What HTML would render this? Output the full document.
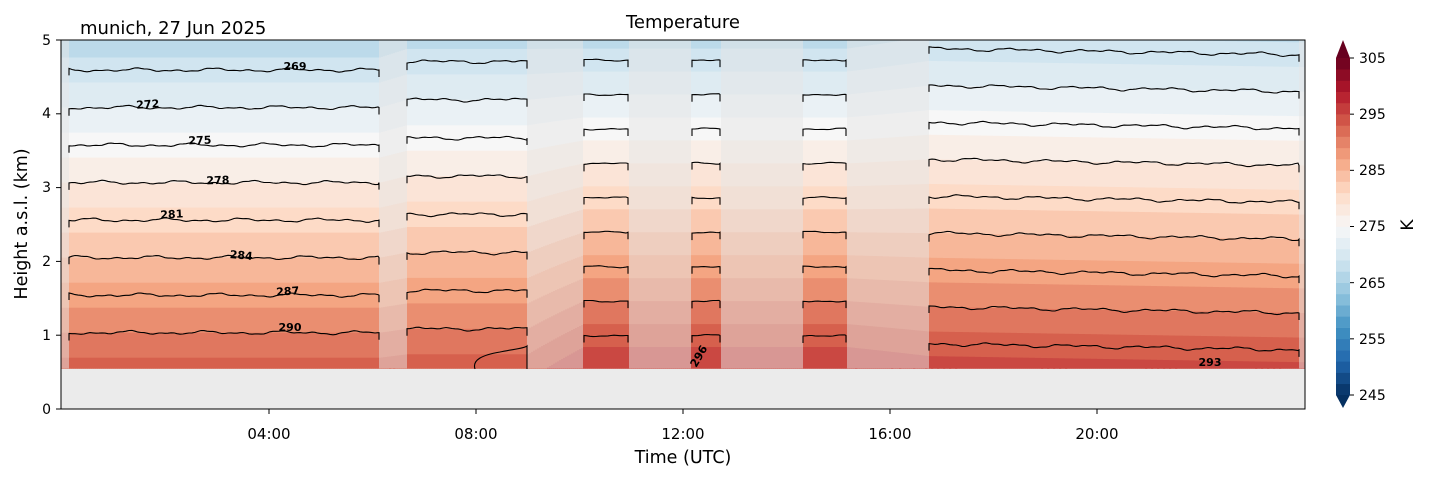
<!DOCTYPE html>
<html><head><meta charset="utf-8"><style>
body{margin:0;background:#fff;}
svg text{font-family:"DejaVu Sans","Liberation Sans",sans-serif;}
</style></head><body>
<svg id="s" width="1429" height="478" xmlns="http://www.w3.org/2000/svg">
<rect x="0" y="0" width="1429" height="478" fill="#fff"/>
<rect x="61" y="40" width="1244" height="369" fill="#ebebeb"/>
<g id="field"></g>
<g id="cont" fill="none" stroke="#000" stroke-width="1.1"></g>
<g id="labs" font-size="11" font-weight="bold" fill="#000"></g>
<rect x="61" y="40" width="1244" height="369" fill="none" stroke="#000" stroke-width="1"/>
<g id="cbar"></g>
<g stroke="#000" stroke-width="1">
<line x1="56" y1="409" x2="61" y2="409"/><line x1="56" y1="335.2" x2="61" y2="335.2"/><line x1="56" y1="261.4" x2="61" y2="261.4"/><line x1="56" y1="187.6" x2="61" y2="187.6"/><line x1="56" y1="113.8" x2="61" y2="113.8"/><line x1="56" y1="40" x2="61" y2="40"/>
<line x1="269" y1="409" x2="269" y2="414"/><line x1="476" y1="409" x2="476" y2="414"/><line x1="683" y1="409" x2="683" y2="414"/><line x1="890" y1="409" x2="890" y2="414"/><line x1="1097" y1="409" x2="1097" y2="414"/>
</g>
<g font-size="14" fill="#000" text-anchor="end">
<text x="51" y="414">0</text><text x="51" y="340">1</text><text x="51" y="266">2</text><text x="51" y="192">3</text><text x="51" y="118">4</text><text x="51" y="45">5</text>
</g>
<g font-size="15" fill="#000" text-anchor="middle">
<text x="269" y="439">04:00</text><text x="476" y="439">08:00</text><text x="683" y="439">12:00</text><text x="890" y="439">16:00</text><text x="1097" y="439">20:00</text>
</g>
<text x="683" y="463" font-size="17.5" text-anchor="middle">Time (UTC)</text>
<text transform="translate(27,224) rotate(-90)" font-size="17.5" text-anchor="middle">Height a.s.l. (km)</text>
<text x="683" y="28" font-size="18" text-anchor="middle">Temperature</text>
<text x="80" y="34" font-size="18">munich, 27 Jun 2025</text>
<g font-size="14" fill="#000">
<text x="1359" y="63">305</text><text x="1359" y="119">295</text><text x="1359" y="175">285</text><text x="1359" y="231">275</text><text x="1359" y="288">265</text><text x="1359" y="344">255</text><text x="1359" y="400">245</text>
</g>
<text transform="translate(1413,225) rotate(-90)" font-size="17" text-anchor="middle">K</text>
</svg>
<script>
var cm=["#053061","#2166ac","#4393c3","#92c5de","#d1e5f0","#f7f7f7","#fddbc7","#f4a582","#d6604d","#b2182b","#67001f"];
function hx(c){return [parseInt(c.substr(1,2),16),parseInt(c.substr(3,2),16),parseInt(c.substr(5,2),16)];}
function col(T){var t=(T-245)/60;t=Math.max(0,Math.min(1,t))*10;var i=Math.min(9,Math.floor(t)),f=t-i;var a=hx(cm[i]),b=hx(cm[i+1]);
return "rgb("+[0,1,2].map(function(k){return Math.round(a[k]+(b[k]-a[k])*f)}).join(",")+")";}
function Y(z){return 409-z*73.8;}
var A=[[61,296.1,5.9],[380,296.1,5.9],[407,296.3,5.8],[528,296.3,5.8],[584,299.4,6.43],[847,299.4,6.43],[929,298.3,6.0],[1305,297.8,6.0]];
function BL(x){for(var i=0;i<A.length-1;i++){if(x<=A[i+1][0]){var f=(x-A[i][0])/(A[i+1][0]-A[i][0]);f=Math.max(0,f);return [A[i][1]+(A[i+1][1]-A[i][1])*f,A[i][2]+(A[i+1][2]-A[i][2])*f];}}return [A[A.length-1][1],A[A.length-1][2]];}
function noise(x,s){return 1.1*Math.sin(x*0.08+s)+0.9*Math.sin(x*0.17+2*s)+0.4*Math.sin(x*0.45+s*3);}
var segs=[[69,380],[407,528],[584,629],[692,721],[803,847],[929,1300]];
function inSeg(x){for(var i=0;i<segs.length;i++)if(x>=segs[i][0]&&x<segs[i][1])return true;return false;}
var out="";
for(var x=61;x<1305;x+=2){
  var bl=BL(x+1),b=bl[0],l=bl[1];
  var solid=inSeg(x+1);
  var ztop=5,zbot=0.55;
  var Tb=b-l*zbot, Tt=b-l*ztop;
  var k0=Math.floor(Tt/2)*2;
  for(var k=k0;k<Tb+2;k+=2){
    var z1=(b-k)/l, z2=(b-(k+2))/l;
    var zlo=Math.max(zbot,z2), zhi=Math.min(ztop,z1);
    if(zhi<=zlo)continue;
    var y1=Y(zhi),y2=Y(zlo);
    out+='<rect x="'+x+'" y="'+y1.toFixed(1)+'" width="2.3" height="'+(y2-y1+0.4).toFixed(1)+'" fill="'+col(k+1)+'"/>';
  }
  if(!solid) out+='<rect x="'+x+'" y="40" width="2.3" height="'+(Y(zbot)-40).toFixed(1)+'" fill="#e6e6e6" fill-opacity="0.5"/>';
}
document.getElementById("field").innerHTML=out;
var ct="";
var levels=[269,272,275,278,281,284,287,290,293,296];
segs.forEach(function(s,si){
  levels.forEach(function(T,li){
    var pts=[];
    for(var x=s[0];x<=s[1]-1;x+=3){var bl=BL(x);var z=(bl[0]-T)/bl[1];var y=Y(z)+noise(x,li+si)*(s[1]-s[0]>100?1:0.5);pts.push([x,y]);}
    var xe=s[1]-1,be=BL(xe);pts.push([xe,Y((be[0]-T)/be[1])]);
    var ok=pts.every(function(p){return p[1]>41&&p[1]<366;});
    if(!ok)return;
    var d="M"+pts[0][0]+","+(pts[0][1]+7).toFixed(1);
    pts.forEach(function(p){d+=" L"+p[0]+","+p[1].toFixed(1);});
    d+=" L"+xe+","+(pts[pts.length-1][1]+7).toFixed(1);
    ct+='<path d="'+d+'"/>';
  });
});
ct+='<path d="M475,369 C472,360 482,355 500,352 C515,349 525,348 527,346 L527,369"/>';
document.getElementById("cont").innerHTML=ct;
var lb=[[295,70,"269",0],[148,108,"272",-4],[200,144,"275",-2],[218,184,"278",-2],[172,218,"281",-3],[241,259,"284",5],[288,295,"287",-4],[290,331,"290",0],[1210,366,"293",0],[702,358,"296",-60]];
var lh="";lb.forEach(function(a){lh+='<text text-anchor="middle" transform="translate('+a[0]+','+a[1]+') rotate('+a[3]+')">'+a[2]+'</text>';});
document.getElementById("labs").innerHTML=lh;
var cb="";
var cTop=58,cBot=395,pk=(cBot-cTop)/60;
for(var k=245;k<305;k+=2){var y=cBot-(k+2-245)*pk;cb+='<rect x="1336" y="'+y.toFixed(2)+'" width="14" height="'+(2*pk+0.3).toFixed(2)+'" fill="'+col(k+1)+'"/>';}
cb+='<polygon points="1336,58 1350,58 1343,40" fill="'+col(306)+'"/>';
cb+='<polygon points="1336,395 1350,395 1343,408" fill="'+col(244)+'"/>';
[305,295,285,275,265,255,245].forEach(function(v){var y=cBot-(v-245)*pk;cb+='<line x1="1350" x2="1354" y1="'+y+'" y2="'+y+'" stroke="#000"/>';});
document.getElementById("cbar").innerHTML=cb;
</script>
</body></html>
